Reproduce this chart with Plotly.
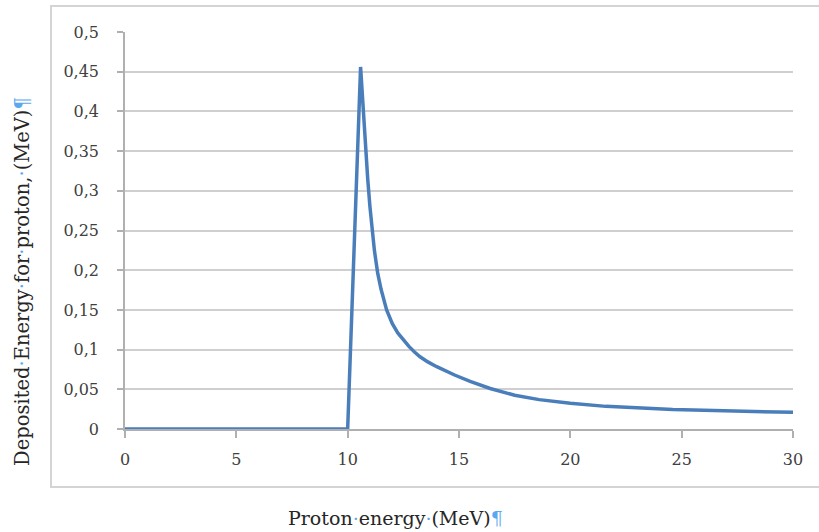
import plotly.graph_objects as go

# Data
energy = [0, 10.0, 10.58, 10.7, 10.8, 10.9, 11.0, 11.1, 11.2, 11.35, 11.5, 11.75, 12.0,
          12.25, 12.5, 12.75, 13.0, 13.25, 13.6, 14.0, 14.8, 15.5, 16.4, 17.5, 18.6,
          20.0, 21.6, 23.0, 24.6, 26.0, 28.0, 30.0]
deposit = [0, 0, 0.456, 0.40, 0.355, 0.315, 0.28, 0.25, 0.225, 0.196, 0.176, 0.15, 0.133,
           0.121, 0.112, 0.104, 0.097, 0.091, 0.0845, 0.0785, 0.068, 0.060, 0.051, 0.0425, 0.037,
           0.0325, 0.0285, 0.0263, 0.0245, 0.0235, 0.0222, 0.021]

x_ticks = [0, 5, 10, 15, 20, 25, 30]
x_ticktext = ["0", "5", "10", "15", "20", "25", "30"]
y_ticks = [0, 0.05, 0.1, 0.15, 0.2, 0.25, 0.3, 0.35, 0.4, 0.45, 0.5]
y_ticktext = ["0", "0,05", "0,1", "0,15", "0,2", "0,25", "0,3", "0,35", "0,4", "0,45", "0,5"]

BLUE_MARK = "#5aa9f0"
dot = f"<span style='color:{BLUE_MARK}'>·</span>"
pil = f"<span style='color:{BLUE_MARK}'>¶</span>"
x_title = f"Proton{dot}energy{dot}(MeV){pil}"
y_title = f"Deposited{dot}Energy{dot}for{dot}proton,{dot}(MeV){pil}"

W, H = 819, 532
L, R, T, B = 125, 26, 32, 103
pw, ph = W - L - R, H - T - B

def px_to_paper_x(px):
    return (px - L) / pw

def py_to_paper_y(py):
    return (H - B - py) / ph

fig = go.Figure()
fig.add_trace(go.Scatter(
    x=energy, y=deposit, mode="lines",
    line=dict(color="#4a7ebb", width=3.5),
    showlegend=False, hoverinfo="skip",
))

font_family = "DejaVu Serif"
tick_font = dict(family=font_family, size=16, color="#404040")
fig.update_layout(
    width=W, height=H,
    margin=dict(l=L, r=R, t=T, b=B),
    paper_bgcolor="white", plot_bgcolor="white",
    font=dict(family=font_family, color="#404040", size=16),
    xaxis=dict(
        range=[0, 30], tickvals=x_ticks, ticktext=x_ticktext,
        showgrid=False, zeroline=False,
        showline=True, linecolor="#b0b0b0", linewidth=1.5,
        ticks="outside", ticklen=7, tickcolor="#b0b0b0", tickwidth=1.5,
        ticklabelstandoff=8,
        tickfont=tick_font,
    ),
    yaxis=dict(
        range=[0, 0.5], tickvals=y_ticks, ticktext=y_ticktext,
        showgrid=True, gridcolor="#cfcfcf", gridwidth=2,
        zeroline=False,
        showline=True, linecolor="#b0b0b0", linewidth=1.5,
        ticks="outside", ticklen=6, tickcolor="#b0b0b0", tickwidth=1.5,
        ticklabelstandoff=15,
        tickfont=tick_font,
    ),
    shapes=[dict(
        type="rect", xref="paper", yref="paper",
        x0=px_to_paper_x(51), x1=px_to_paper_x(830),
        y0=py_to_paper_y(487), y1=py_to_paper_y(6),
        line=dict(color="#d4d4d4", width=2), fillcolor="rgba(0,0,0,0)",
        layer="below",
    )],
    annotations=[
        dict(text=x_title, xref="paper", yref="paper",
             x=px_to_paper_x(395), y=py_to_paper_y(518),
             showarrow=False, xanchor="center", yanchor="middle",
             font=dict(family=font_family, size=19, color="#262626")),
        dict(text=y_title, xref="paper", yref="paper",
             x=px_to_paper_x(22), y=py_to_paper_y(282),
             showarrow=False, xanchor="center", yanchor="middle", textangle=-90,
             font=dict(family=font_family, size=19.5, color="#262626")),
    ],
)

fig.write_html("out.html", config={"displayModeBar": False},
               post_script="document.body.style.margin='0';document.body.style.overflow='hidden';")
